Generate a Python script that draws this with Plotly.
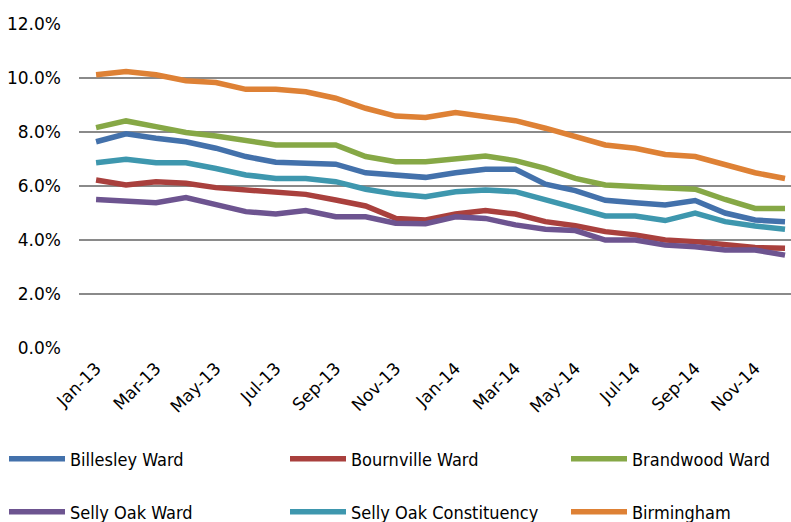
import plotly.graph_objects as go

months = ["Jan-13", "Feb-13", "Mar-13", "Apr-13", "May-13", "Jun-13", "Jul-13", "Aug-13",
          "Sep-13", "Oct-13", "Nov-13", "Dec-13", "Jan-14", "Feb-14", "Mar-14", "Apr-14",
          "May-14", "Jun-14", "Jul-14", "Aug-14", "Sep-14", "Oct-14", "Nov-14", "Dec-14"]

billesley = [7.64, 7.93, 7.77, 7.64, 7.40, 7.09, 6.88, 6.86, 6.81, 6.49, 6.38, 6.32,
             6.49, 6.62, 6.62, 6.07, 5.83, 5.47, 5.38, 5.30, 5.46, 5.00, 4.74, 4.68]
bournville = [6.22, 6.04, 6.16, 6.10, 5.94, 5.85, 5.75, 5.69, 5.48, 5.26, 4.80, 4.74,
              4.96, 5.09, 4.96, 4.68, 4.53, 4.31, 4.19, 4.00, 3.94, 3.84, 3.72, 3.69]
brandwood = [8.16, 8.41, 8.20, 7.98, 7.85, 7.70, 7.52, 7.52, 7.52, 7.09, 6.90, 6.90,
             7.02, 7.11, 6.94, 6.65, 6.28, 6.04, 5.98, 5.94, 5.88, 5.50, 5.17, 5.17]
selly_oak_ward = [5.50, 5.44, 5.38, 5.57, 5.30, 5.05, 4.96, 5.09, 4.86, 4.86, 4.62, 4.60,
                  4.86, 4.80, 4.56, 4.40, 4.35, 4.00, 4.00, 3.81, 3.75, 3.63, 3.63, 3.44]
selly_oak_const = [6.86, 6.99, 6.86, 6.86, 6.65, 6.41, 6.28, 6.28, 6.16, 5.88, 5.70, 5.60,
                   5.79, 5.85, 5.79, 5.48, 5.17, 4.89, 4.89, 4.72, 5.00, 4.68, 4.52, 4.40]
birmingham = [10.12, 10.24, 10.12, 9.90, 9.83, 9.58, 9.58, 9.49, 9.25, 8.88, 8.59, 8.54,
              8.72, 8.59, 8.42, 8.14, 7.85, 7.52, 7.40, 7.17, 7.09, 6.78, 6.49, 6.28]

series_names = ["Billesley Ward", "Bournville Ward", "Brandwood Ward",
                "Selly Oak Ward", "Selly Oak Constituency", "Birmingham"]
series_values = [billesley, bournville, brandwood, selly_oak_ward, selly_oak_const, birmingham]
series_colors = ["#4371AB", "#A9403D", "#86A846", "#6D5490", "#3E97AE", "#DE8135"]
legend_ids = ["legend", "legend", "legend", "legend2", "legend2", "legend2"]
legend_widths = [210, 210, 140, 210, 210, 140]

y_ticks = [0, 2, 4, 6, 8, 10, 12]
y_ticktext = [f"{v:.1f}%" for v in y_ticks]
x_tickvals = months[::2]

fig = go.Figure()
for name, vals, col, lg, lw in zip(series_names, series_values, series_colors,
                                   legend_ids, legend_widths):
    fig.add_trace(go.Scatter(x=months, y=vals, name=name, mode="lines",
                             line=dict(color=col, width=5.5), legend=lg, legendwidth=lw))

tick_font = dict(family="DejaVu Sans", size=17, color="#000000")
leg_font = dict(family="DejaVu Sans Condensed, DejaVu Sans", size=18, color="#000000")

W, H = 791, 522
ML, MT, MB = 79, 24, 174
plot_w, plot_h = W - ML, H - MT - MB


def paper_x(px):
    return (px - ML) / plot_w


def paper_y(py):
    return (H - MB - py) / plot_h


fig.update_layout(
    width=W, height=H,
    margin=dict(l=ML, r=0, t=MT, b=MB, autoexpand=False),
    paper_bgcolor="white", plot_bgcolor="white",
    xaxis=dict(type="category", range=[-0.57, 23.2], showgrid=False, zeroline=False,
               showline=False, tickmode="array", tickvals=x_tickvals, ticktext=x_tickvals,
               tickangle=-45, tickfont=tick_font, ticks="", ticklabelstandoff=6),
    yaxis=dict(range=[0, 12], tickmode="array", tickvals=y_ticks, ticktext=y_ticktext,
               showgrid=True, gridcolor="#8A8A8A", gridwidth=2, zeroline=False,
               showline=False, tickfont=tick_font, ticks="", ticklabelstandoff=17),
    legend=dict(orientation="h", x=paper_x(4), y=paper_y(459), xanchor="left",
                yanchor="middle", font=leg_font, entrywidthmode="pixels", itemwidth=56,
                bgcolor="rgba(0,0,0,0)"),
    legend2=dict(orientation="h", x=paper_x(4), y=paper_y(512), xanchor="left",
                 yanchor="middle", font=leg_font, entrywidthmode="pixels", itemwidth=56,
                 bgcolor="rgba(0,0,0,0)"),
    showlegend=True,
)

fig.write_html("out.html", config={"displayModeBar": False},
               post_script="document.body.style.margin='0';")
